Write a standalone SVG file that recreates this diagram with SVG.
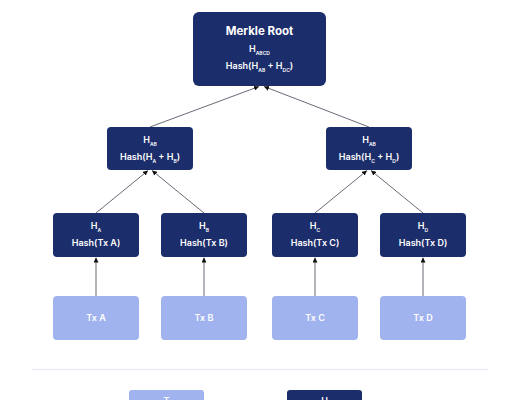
<svg xmlns="http://www.w3.org/2000/svg" width="520" height="400" viewBox="0 0 520 400">
<style>
.dark{fill:#1c2d6b}
.light{fill:#a1b3ee}
.t{font-family:Inter,"Liberation Sans",sans-serif;font-size:9px;font-weight:600;fill:#ffffff;text-anchor:middle}
.title{font-size:11.5px;font-weight:700}
.sub{font-size:5px}
.conn{stroke:#555a66;stroke-width:0.9;fill:none;marker-end:url(#ah)}
</style>
<defs>
<marker id="ah" viewBox="0 0 10 10" refX="10" refY="5" markerWidth="5" markerHeight="5" orient="auto" markerUnits="userSpaceOnUse">
<path d="M0,0 L10,5 L0,10 z" fill="#111"/>
</marker>
</defs>
<rect width="520" height="400" fill="#ffffff"/>
<g id="connectors">
<path class="conn" d="M150,127 L259,86.5"/>
<path class="conn" d="M369,127 L264,86.5"/>
<path class="conn" d="M96,213 L148,170.5"/>
<path class="conn" d="M204,213 L152,170.5"/>
<path class="conn" d="M315,213 L367,170.5"/>
<path class="conn" d="M423,213 L371,170.5"/>
<path class="conn" d="M96,296 L96,257.5"/>
<path class="conn" d="M204,296 L204,257.5"/>
<path class="conn" d="M315,296 L315,257.5"/>
<path class="conn" d="M423,296 L423,257.5"/>
</g>
<g id="root">
<rect class="dark" x="193" y="12" width="133" height="74" rx="6"/>
<text class="t title" x="259.5" y="35">Merkle Root</text>
<text class="t" x="259.5" y="52">H<tspan class="sub" dy="2.5">ABCD</tspan></text>
<text class="t" x="259.5" y="69">Hash(H<tspan class="sub" dy="2.5">AB</tspan><tspan dy="-2.5"> + H</tspan><tspan class="sub" dy="2.5">DC</tspan><tspan dy="-2.5">)</tspan></text>
</g>
<g id="hab">
<rect class="dark" x="107" y="127" width="86" height="43" rx="4"/>
<text class="t" x="150" y="143">H<tspan class="sub" dy="2.5">AB</tspan></text>
<text class="t" x="150" y="160">Hash(H<tspan class="sub" dy="2.5">A</tspan><tspan dy="-2.5"> + H</tspan><tspan class="sub" dy="2.5">B</tspan><tspan dy="-2.5">)</tspan></text>
</g>
<g id="hcd">
<rect class="dark" x="326" y="127" width="86" height="43" rx="4"/>
<text class="t" x="369" y="143">H<tspan class="sub" dy="2.5">AB</tspan></text>
<text class="t" x="369" y="160">Hash(H<tspan class="sub" dy="2.5">C</tspan><tspan dy="-2.5"> + H</tspan><tspan class="sub" dy="2.5">D</tspan><tspan dy="-2.5">)</tspan></text>
</g>
<g id="ha">
<rect class="dark" x="53" y="213" width="86" height="44" rx="4"/>
<text class="t" x="96" y="229">H<tspan class="sub" dy="2.5">A</tspan></text>
<text class="t" x="96" y="246">Hash(Tx A)</text>
</g>
<g id="hb">
<rect class="dark" x="161" y="213" width="86" height="44" rx="4"/>
<text class="t" x="204" y="229">H<tspan class="sub" dy="2.5">B</tspan></text>
<text class="t" x="204" y="246">Hash(Tx B)</text>
</g>
<g id="hc">
<rect class="dark" x="272" y="213" width="86" height="44" rx="4"/>
<text class="t" x="315" y="229">H<tspan class="sub" dy="2.5">C</tspan></text>
<text class="t" x="315" y="246">Hash(Tx C)</text>
</g>
<g id="hd">
<rect class="dark" x="380" y="213" width="86" height="44" rx="4"/>
<text class="t" x="423" y="229">H<tspan class="sub" dy="2.5">D</tspan></text>
<text class="t" x="423" y="246">Hash(Tx D)</text>
</g>
<g id="txa">
<rect class="light" x="53" y="296" width="86" height="44" rx="4"/>
<text class="t" x="96" y="321">Tx A</text>
</g>
<g id="txb">
<rect class="light" x="161" y="296" width="86" height="44" rx="4"/>
<text class="t" x="204" y="321">Tx B</text>
</g>
<g id="txc">
<rect class="light" x="272" y="296" width="86" height="44" rx="4"/>
<text class="t" x="315" y="321">Tx C</text>
</g>
<g id="txd">
<rect class="light" x="380" y="296" width="86" height="44" rx="4"/>
<text class="t" x="423" y="321">Tx D</text>
</g>
<line x1="32" y1="369.5" x2="488" y2="369.5" stroke="#e6e7f3" stroke-width="1"/>
<g id="legend-tx">
<rect class="light" x="129" y="390" width="75" height="30" rx="3"/>
<text class="t" x="166.5" y="404">T</text>
</g>
<g id="legend-hash">
<rect class="dark" x="287" y="390" width="75" height="30" rx="3"/>
<text class="t" x="324.5" y="404">H</text>
</g>
</svg>
